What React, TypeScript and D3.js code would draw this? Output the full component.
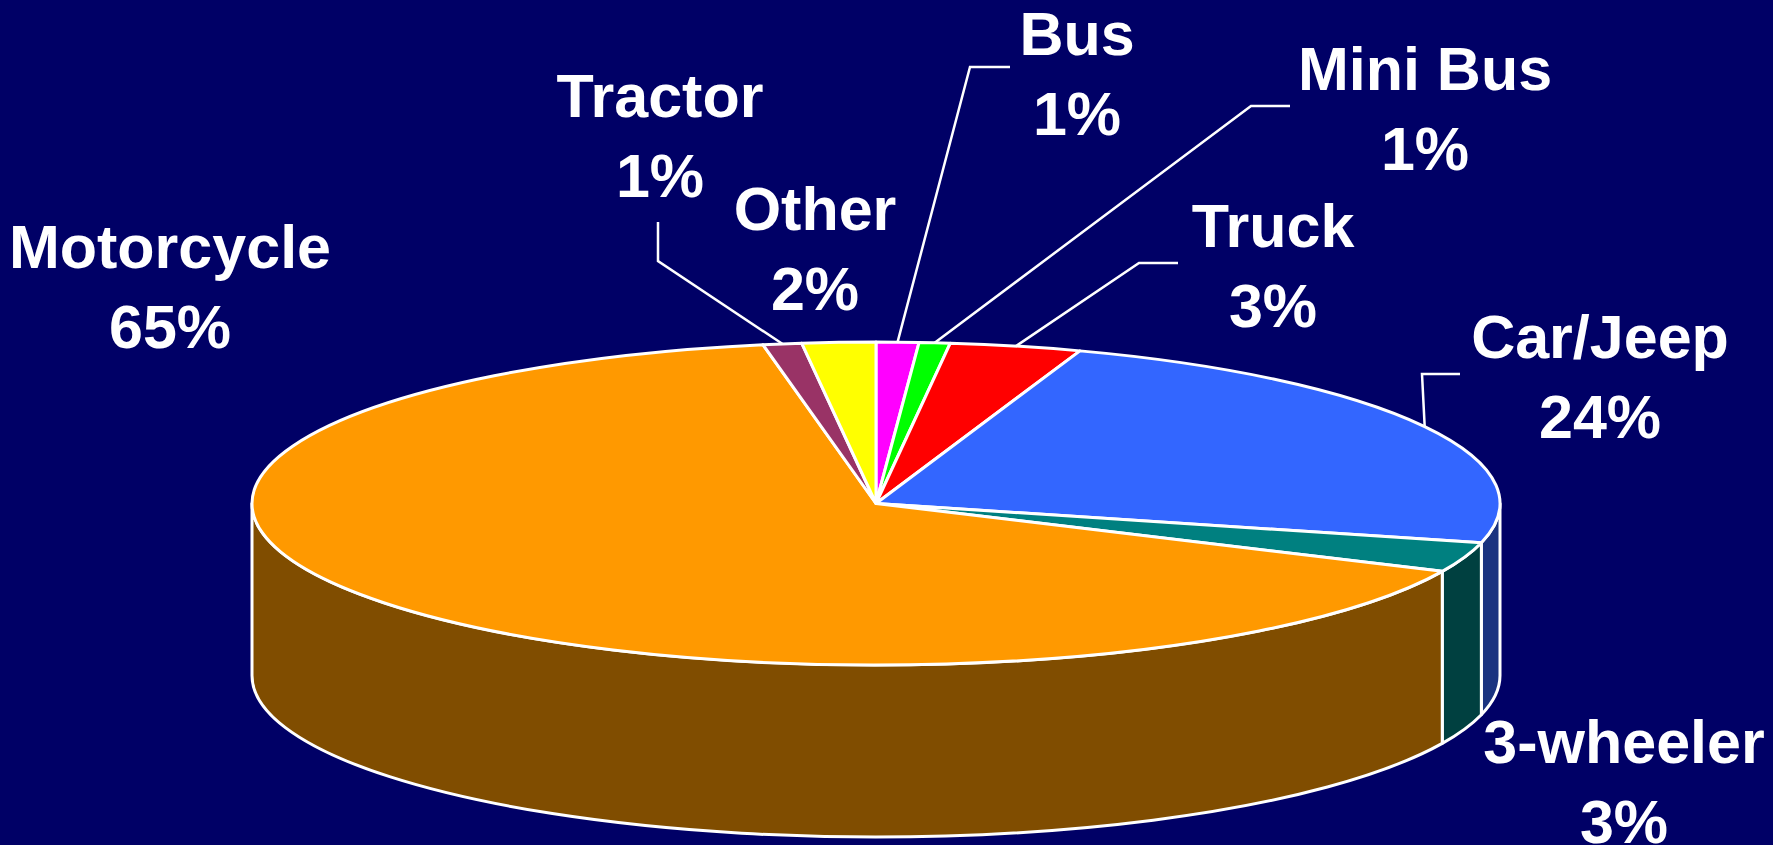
import React from "react";
import * as d3 from "d3";

const CATEGORIES = ["Bus", "Mini Bus", "Truck", "Car/Jeep", "3-wheeler", "Motorcycle", "Tractor", "Other"];
const SHARES = [1.1, 0.8, 3.4, 23.6, 3.0, 65.2, 1.0, 1.9];
const TOP_COLORS = ["#FF00FF", "#00FF00", "#FF0000", "#3366FF", "#008080", "#FF9900", "#993366", "#FFFF00"];

// layout (label anchor = centre x, first baseline y)
const LABEL_POS: Record<string, [number, number]> = {
  "Bus": [1077, 55],
  "Mini Bus": [1425, 90],
  "Truck": [1273, 247],
  "Car/Jeep": [1600, 358],
  "3-wheeler": [1624, 763],
  "Motorcycle": [170, 268],
  "Tractor": [660, 117],
  "Other": [815, 230],
};
// leader lines: elbow point and end point
const LEADERS: Record<string, [number, number][]> = {
  "Bus": [[970, 67], [1010, 67]],
  "Mini Bus": [[1251, 106], [1290, 106]],
  "Truck": [[1139, 263], [1178, 263]],
  "Car/Jeep": [[1422, 374], [1460, 374]],
  "Tractor": [[658, 261], [658, 222]],
};

const W = 1773, H = 845;
const CX = 876, CY = 503.5, RX = 624, RY = 161.5, DEPTH = 172;
const BG = "#000066";

function darken(c: string) {
  const r = d3.rgb(c);
  return d3.rgb(r.r * 0.5, r.g * 0.5, r.b * 0.5).formatHex();
}

const pt = (a: number, dy = 0): [number, number] => [CX + RX * Math.sin(a), CY - RY * Math.cos(a) + dy];

export default function App() {
  const pie = d3.pie<number>().sort(null).value((d) => d);
  const arcs = pie(SHARES);

  const tops = arcs.map((a, i) => {
    const p0 = pt(a.startAngle), p1 = pt(a.endAngle);
    const large = a.endAngle - a.startAngle > Math.PI ? 1 : 0;
    const d = `M${CX},${CY}L${p0[0]},${p0[1]}A${RX},${RY} 0 ${large} 1 ${p1[0]},${p1[1]}Z`;
    return { d, color: TOP_COLORS[i], key: CATEGORIES[i] };
  });

  const sides: { d: string; color: string; key: string }[] = [];
  arcs.forEach((a, i) => {
    const s = Math.max(a.startAngle, Math.PI / 2);
    const e = Math.min(a.endAngle, (3 * Math.PI) / 2);
    if (e <= s) return;
    const p0 = pt(s), p1 = pt(e), q1 = pt(e, DEPTH), q0 = pt(s, DEPTH);
    const large = e - s > Math.PI ? 1 : 0;
    const d = `M${p0[0]},${p0[1]}A${RX},${RY} 0 ${large} 1 ${p1[0]},${p1[1]}L${q1[0]},${q1[1]}A${RX},${RY} 0 ${large} 0 ${q0[0]},${q0[1]}Z`;
    sides.push({ d, color: darken(TOP_COLORS[i]), key: CATEGORIES[i] });
  });

  const fontSize = 61;
  const lineGap = 80;

  return (
    <svg width={W} height={H} style={{ position: "absolute", left: 0, top: 0, display: "block" }}>
      <rect x={0} y={0} width={W} height={H} fill={BG} />
      <g stroke="#FFFFFF" strokeWidth={3} strokeLinejoin="round">
        {sides.map((s) => (
          <path key={"s" + s.key} d={s.d} fill={s.color} />
        ))}
        {tops.map((t) => (
          <path key={"t" + t.key} d={t.d} fill={t.color} />
        ))}
      </g>
      <g stroke="#FFFFFF" strokeWidth={2.5} fill="none">
        {arcs.map((a, i) => {
          const name = CATEGORIES[i];
          const L = LEADERS[name];
          if (!L) return null;
          const m = pt((a.startAngle + a.endAngle) / 2);
          const pts = [m, ...L];
          return <path key={"l" + name} d={d3.line()(pts as [number, number][]) || ""} />;
        })}
      </g>
      <g fill="#FFFFFF" fontFamily="'Liberation Sans', Arial, sans-serif" fontWeight="bold" fontSize={fontSize} textAnchor="middle">
        {CATEGORIES.map((name, i) => {
          const [x, y] = LABEL_POS[name];
          return (
            <text key={"x" + name} x={x} y={y}>
              <tspan x={x} y={y}>{name}</tspan>
              <tspan x={x} y={y + lineGap}>{Math.round(SHARES[i]) + "%"}</tspan>
            </text>
          );
        })}
      </g>
    </svg>
  );
}
